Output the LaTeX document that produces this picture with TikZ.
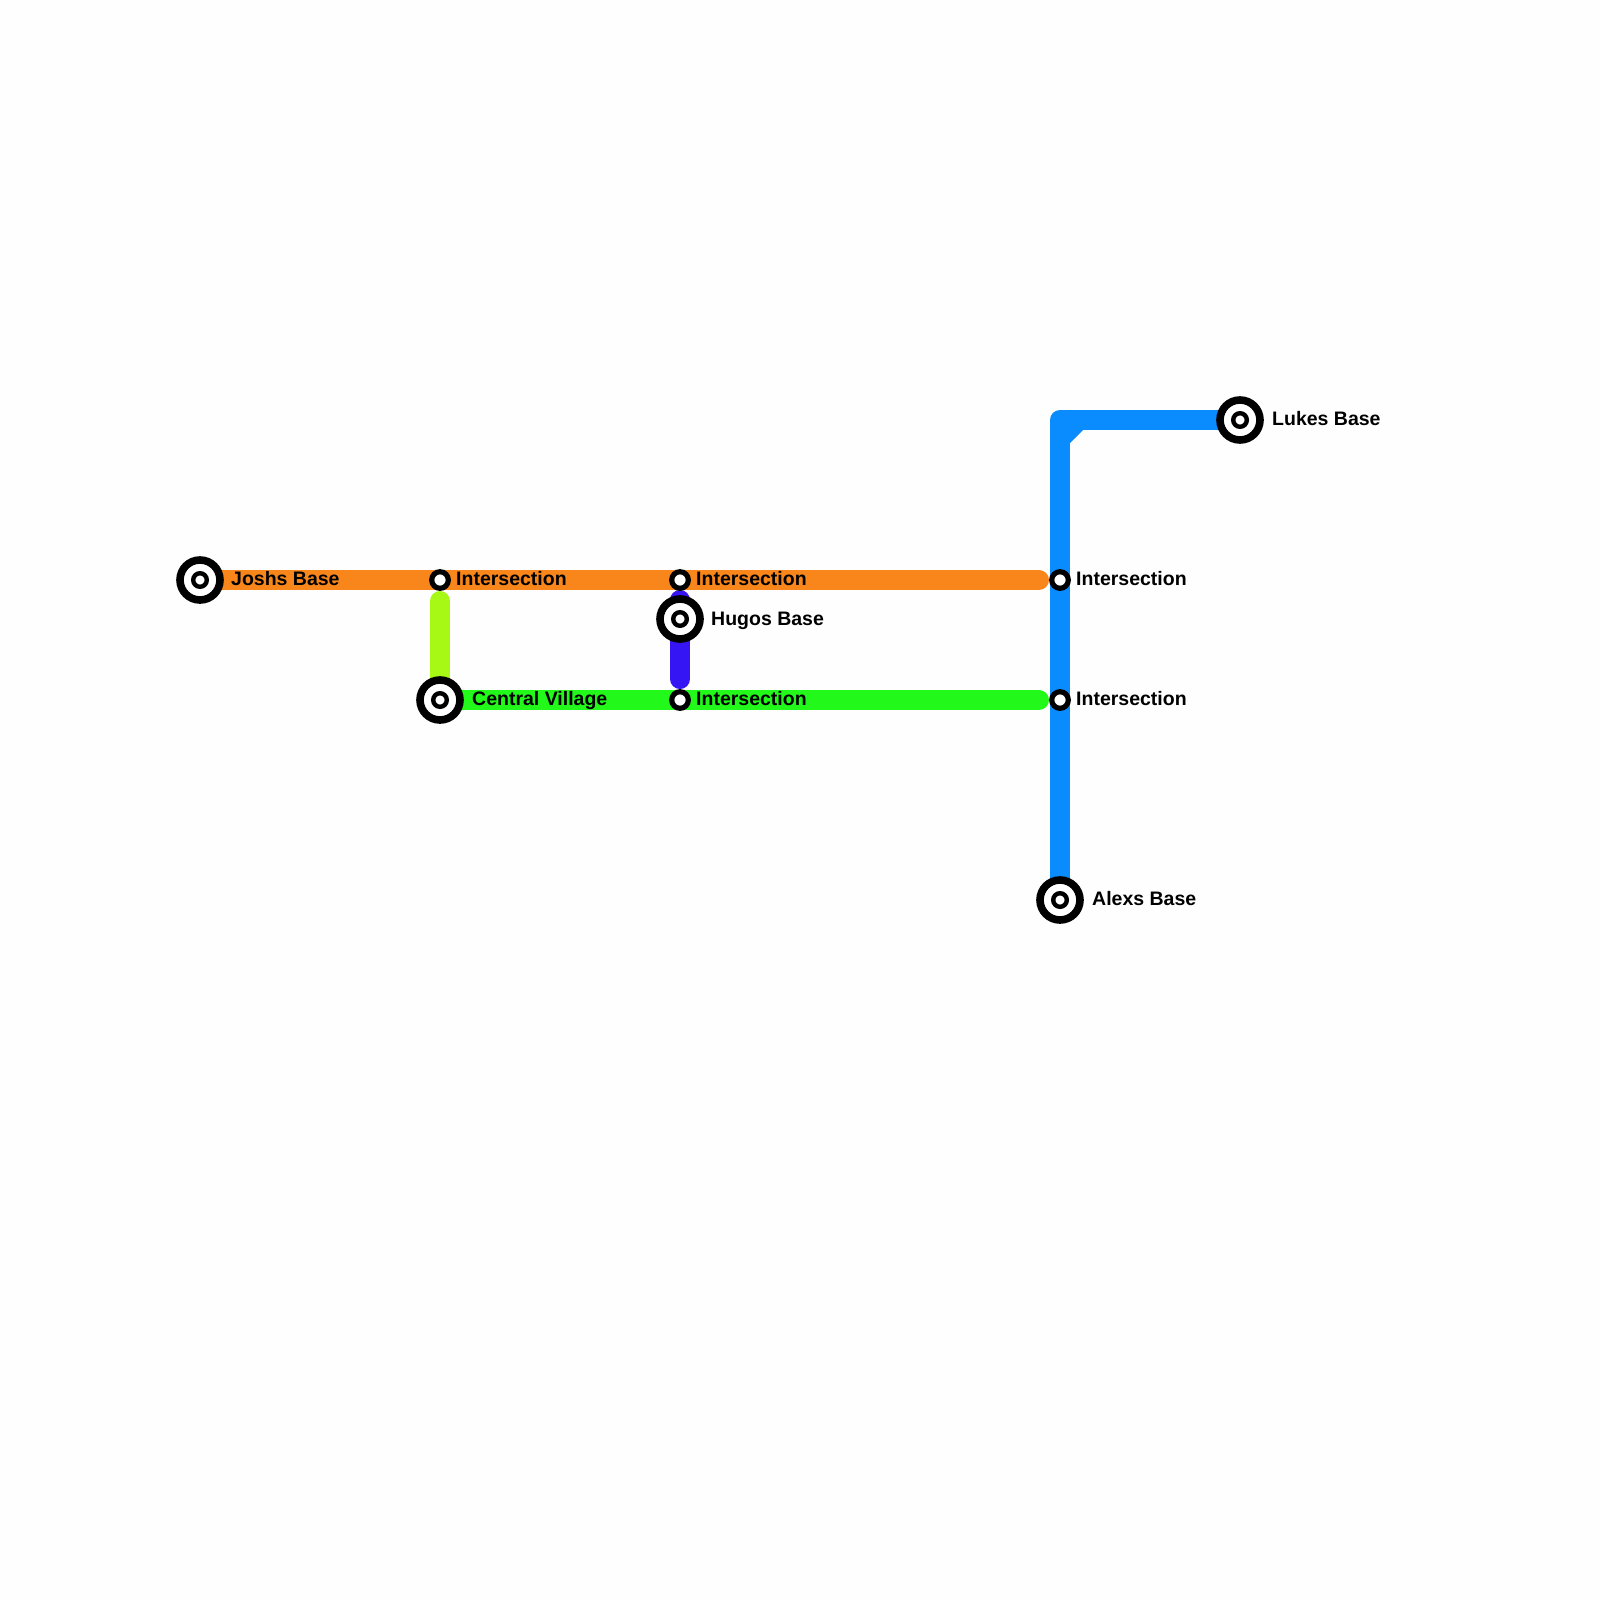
\documentclass[tikz,border=0pt]{standalone}
\usepackage{fontspec}
\setmainfont{Liberation Sans}
\begin{document}
\begin{tikzpicture}[x=1pt,y=-1pt,
  track/.style={line width=20pt,line cap=round,line join=round},
  termouter/.style={draw=black,fill=white,line width=7.6pt},
  terminner/.style={draw=black,fill=white,line width=4.4pt},
  interchange/.style={draw=black,fill=white,line width=5.2pt},
  lbl/.style={anchor=base west,inner sep=0pt,font=\fontsize{19.5}{22}\selectfont\bfseries}]
\fill[white!99.5!black] (0,0) rectangle (1600,1600);
\useasboundingbox (0,0) rectangle (1600,1600);
\definecolor{orangeL}{HTML}{F8861A}
\definecolor{greenL}{HTML}{22F91A}
\definecolor{blueL}{HTML}{0A8CFF}
\definecolor{purpleL}{HTML}{3615F5}
\definecolor{limeL}{HTML}{A8F815}
% station coordinates
\coordinate (josh) at (200,580);
\coordinate (i1) at (440,580);
\coordinate (i2) at (680,580);
\coordinate (i3) at (1060,580);
\coordinate (hugo) at (680,619);
\coordinate (cv) at (440,700);
\coordinate (i4) at (680,700);
\coordinate (i5) at (1060,700);
\coordinate (luke) at (1240,420);
\coordinate (alex) at (1060,900);
\coordinate (oend) at (1039,580);
\coordinate (gend) at (1039,700);
\coordinate (bcorner) at (1060,420);
\coordinate (bc1) at (1079,420);
\coordinate (bc2) at (1060,439);
\coordinate (limetop) at (440,601);
\coordinate (ptop) at (680,600);
\coordinate (pbot) at (680,679);
% lines
\draw[track,blueL] (luke) -- (bcorner) -- (alex);
\draw[track,blueL] (bc1) -- (bc2);
\draw[track,orangeL] (josh) -- (oend);
\draw[track,greenL] (cv) -- (gend);
\draw[track,limeL] (limetop) -- (cv);
\draw[track,purpleL] (ptop) -- (pbot);
% stations
\foreach \s in {josh,cv,hugo,luke,alex}{
  \draw[termouter] (\s) circle[radius=20pt];
  \draw[terminner] (\s) circle[radius=6.8pt];
}
\foreach \s in {i1,i2,i3,i4,i5}{
  \draw[interchange] (\s) circle[radius=8.3pt];
}
% labels
\node[lbl] (l-josh) at (231,585) {Joshs Base};
\node[lbl] (l-i1) at (456,585) {Intersection};
\node[lbl] (l-i2) at (696,585) {Intersection};
\node[lbl] (l-hugo) at (711,625) {Hugos Base};
\node[lbl] (l-i3) at (1076,585) {Intersection};
\node[lbl] (l-cv) at (472,705) {Central Village};
\node[lbl] (l-i4) at (696,705) {Intersection};
\node[lbl] (l-i5) at (1076,705) {Intersection};
\node[lbl] (l-luke) at (1272,425) {Lukes Base};
\node[lbl] (l-alex) at (1092,905) {Alexs Base};
\end{tikzpicture}
\end{document}
